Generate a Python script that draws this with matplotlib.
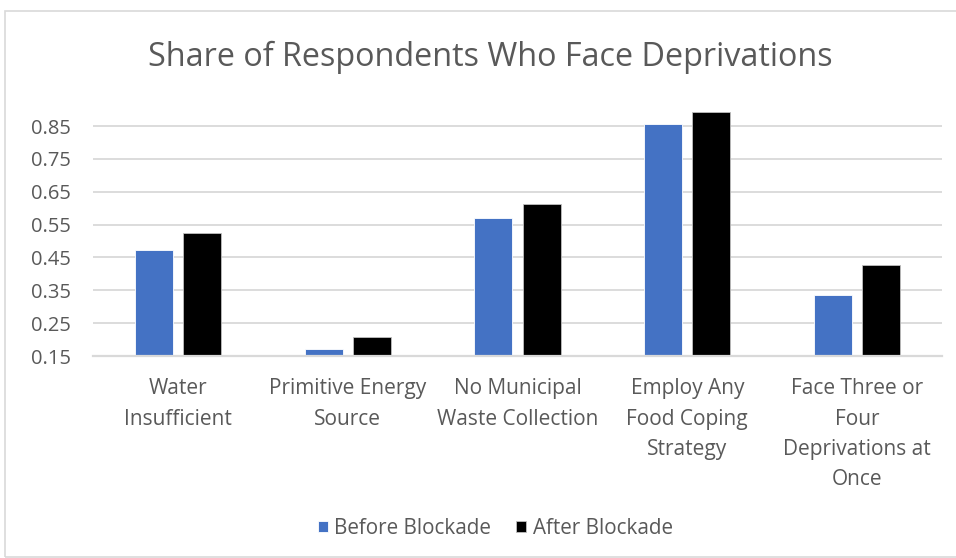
import numpy as np
import matplotlib
matplotlib.use("Agg")
import matplotlib.pyplot as plt
from matplotlib.patches import Rectangle

# --- Datos ---
categorias = ["Water\nInsufficient", "Primitive Energy\nSource", "No Municipal\nWaste Collection",
              "Employ Any\nFood Coping\nStrategy", "Face Three or\nFour\nDeprivations at\nOnce"]
antes = [0.472, 0.170, 0.571, 0.857, 0.337]
despues = [0.526, 0.207, 0.612, 0.894, 0.426]
yticks = [0.15, 0.25, 0.35, 0.45, 0.55, 0.65, 0.75, 0.85]
series = ["Before Blockade", "After Blockade"]

gris_texto = "#595959"
gris_linea = "#D9D9D9"
plt.rcParams["font.family"] = ["Open Sans", "DejaVu Sans"]

fig = plt.figure(figsize=(9.56, 5.58), dpi=100)
ax = fig.add_axes([0.0973, 0.362, 0.888, 0.459])

x = np.arange(len(categorias))
ancho = 0.224
desp = 0.142
base = yticks[0]
ax.bar(x - desp, np.array(antes) - base, ancho, bottom=base, color="#4472C4",
       edgecolor="white", linewidth=0.6, label=series[0], zorder=3)
ax.bar(x + desp, np.array(despues) - base, ancho, bottom=base, color="black",
       edgecolor="#BFBFBF", linewidth=0.6, label=series[1], zorder=3)

ax.set_xlim(-0.5, len(categorias) - 0.5)
ax.set_ylim(0.15, 0.93)
ax.set_yticks(yticks)
ax.set_yticklabels([f"{v:.2f}" for v in yticks])
ax.set_xticks(x)
ax.set_xticklabels(categorias, linespacing=1.58, va="top")

ax.tick_params(axis="y", length=0, pad=16, labelsize=14.5, labelcolor=gris_texto)
ax.tick_params(axis="x", length=0, pad=16, labelsize=15, labelcolor=gris_texto)
ax.grid(axis="y", color=gris_linea, linewidth=1.3, zorder=0)
for lado in ["top", "right", "left"]:
    ax.spines[lado].set_visible(False)
ax.spines["bottom"].set_color(gris_linea)
ax.spines["bottom"].set_linewidth(1.6)
ax.spines["bottom"].set_zorder(4)

fig.text(0.513, 0.897, "Share of Respondents Who Face Deprivations", ha="center", va="center",
         fontsize=23.3, color=gris_texto)

fig.legend(loc="center", bbox_to_anchor=(0.518, 0.053), ncol=2, frameon=False,
           fontsize=14.9, labelcolor=gris_texto, handlelength=0.5, handleheight=0.5,
           handletextpad=0.3, columnspacing=1.2)

# borde del gráfico
fig.patches.append(Rectangle((5 / 956, 0.002), 1.0, 1 - 11 / 558 - 0.002, transform=fig.transFigure,
                             fill=False, edgecolor=gris_linea, linewidth=1.2))

fig.savefig("out.png", dpi=100)
